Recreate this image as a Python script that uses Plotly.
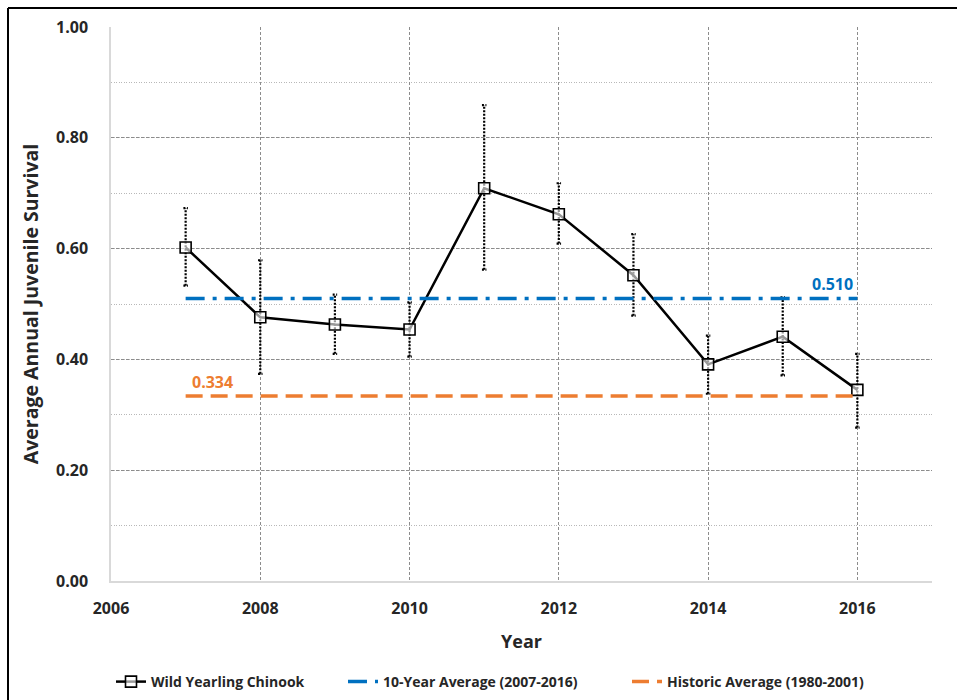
import plotly.graph_objects as go

# Survival estimates for wild yearling Chinook, with interval bounds
years = [2007, 2008, 2009, 2010, 2011, 2012, 2013, 2014, 2015, 2016]
survival = [0.602, 0.476, 0.463, 0.454, 0.709, 0.662, 0.552, 0.391, 0.441, 0.345]
upper = [0.673, 0.579, 0.517, 0.503, 0.859, 0.718, 0.626, 0.443, 0.512, 0.410]
lower = [0.533, 0.374, 0.410, 0.405, 0.562, 0.609, 0.479, 0.338, 0.371, 0.277]

ten_year_avg = 0.510
historic_avg = 0.334

y_ticks = [0.0, 0.2, 0.4, 0.6, 0.8, 1.0]
x_ticks = [2006, 2008, 2010, 2012, 2014, 2016]

BLUE = "#0070c0"
ORANGE = "#ed7d31"
FONT = "Open Sans"
TEXT = "#262626"

# dotted interval bars with small caps, one segment per year
cap = 0.03
ex, ey = [], []
for yr, lo, hi in zip(years, lower, upper):
    ex += [yr, yr, None, yr - cap, yr + cap, None, yr - cap, yr + cap, None]
    ey += [lo, hi, None, hi, hi, None, lo, lo, None]

fig = go.Figure()

fig.add_trace(go.Scatter(
    x=ex, y=ey, mode="lines", showlegend=False, hoverinfo="skip",
    line=dict(color="black", width=2.2, dash="2px,1.5px"),
))

fig.add_trace(go.Scatter(
    x=years, y=survival, mode="lines+markers", name="Wild Yearling Chinook",
    legend="legend",
    line=dict(color="black", width=2.5),
    marker=dict(symbol="square", size=11, color="rgba(255,255,255,0.6)",
                line=dict(color="black", width=1.6)),
))

fig.add_trace(go.Scatter(
    x=[years[0], years[-1]], y=[ten_year_avg, ten_year_avg], mode="lines",
    name="10-Year Average (2007-2016)", legend="legend2",
    line=dict(color=BLUE, width=3.5, dash="19px,8px,4px,8px"),
))

fig.add_trace(go.Scatter(
    x=[years[0], years[-1]], y=[historic_avg, historic_avg], mode="lines",
    name="Historic Average (1980-2001)", legend="legend3",
    line=dict(color=ORANGE, width=3.5, dash="17px,8px"),
))

fig.add_annotation(
    x=years[-1], y=ten_year_avg, xref="x", yref="y",
    text=f"{ten_year_avg:.3f}", showarrow=False,
    xanchor="right", yanchor="bottom", yshift=1, xshift=-2,
    font=dict(family=FONT, size=16, color=BLUE, weight="bold"),
)
fig.add_annotation(
    x=years[0], y=historic_avg, xref="x", yref="y",
    text=f"{historic_avg:.3f}", showarrow=False,
    xanchor="left", yanchor="bottom", yshift=1, xshift=4,
    font=dict(family=FONT, size=16, color=ORANGE, weight="bold"),
)

# outer frame (top and left edges)
L, R, T, B = 111, 25, 27, 119
W, H = 957, 700
pw, ph = W - L - R, H - T - B
fx = (8 - L) / pw
fy = (H - B - 8) / ph
fig.add_shape(type="line", xref="paper", yref="paper",
              x0=fx, x1=(W + 10 - L) / pw, y0=fy, y1=fy,
              line=dict(color="black", width=2))
fig.add_shape(type="line", xref="paper", yref="paper",
              x0=fx, x1=fx, y0=fy, y1=-(B + 10) / ph,
              line=dict(color="black", width=2))

legend_font = dict(family=FONT, size=14, color=TEXT, weight="bold")


def legend_at(px_left):
    return dict(
        orientation="h", xref="container", yref="container",
        x=px_left / W, xanchor="left",
        y=1 - 682 / H, yanchor="middle", font=legend_font,
        itemwidth=30, bgcolor="rgba(0,0,0,0)",
    )


fig.update_layout(
    width=W, height=H,
    margin=dict(l=L, r=R, t=T, b=B, autoexpand=False),
    paper_bgcolor="white", plot_bgcolor="white",
    font=dict(family=FONT, color=TEXT),
    showlegend=True,
    legend=legend_at(111),
    legend2=legend_at(343),
    legend3=legend_at(627),
    xaxis=dict(
        range=[2006, 2017], tickvals=x_ticks, ticktext=[str(t) for t in x_ticks],
        showgrid=True, gridcolor="#8c8c8c", gridwidth=1, griddash="3px,2px",
        showline=True, linecolor="#d9d9d9", linewidth=1.5,
        zeroline=False, ticks="", ticklabelstandoff=12,
        tickfont=dict(family=FONT, size=16, color=TEXT, weight="bold"),
        title=dict(text="Year", standoff=17,
                   font=dict(family=FONT, size=18, color=TEXT, weight="bold")),
    ),
    yaxis=dict(
        range=[0, 1.0], tickvals=y_ticks, tickformat=".2f",
        showgrid=True, gridcolor="#8c8c8c", gridwidth=1, griddash="3px,2px",
        minor=dict(dtick=0.1, showgrid=True, gridcolor="#b8b8b8",
                   griddash="1px,1.5px", gridwidth=1),
        showline=True, linecolor="#d9d9d9", linewidth=1.5,
        zeroline=False, ticks="", ticklabelstandoff=18,
        tickfont=dict(family=FONT, size=16, color=TEXT, weight="bold"),
        title=dict(text="Average Annual Juvenile Survival", standoff=12,
                   font=dict(family=FONT, size=19.5, color=TEXT, weight="bold")),
    ),
)

fig.write_html("out.html")
